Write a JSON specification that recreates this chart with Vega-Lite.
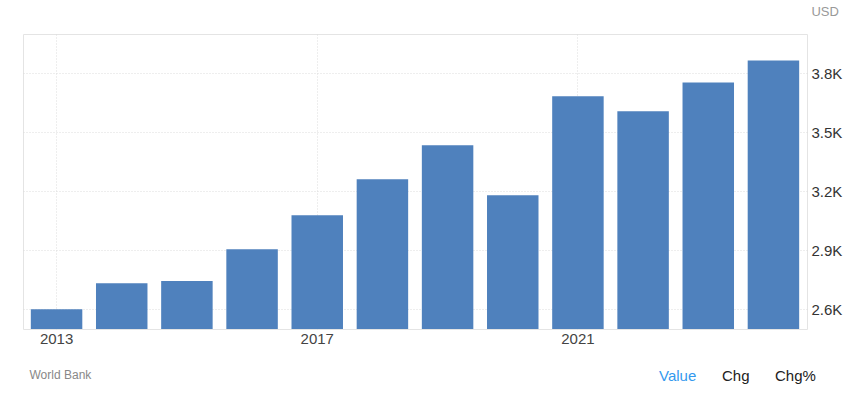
{
  "$schema": "https://vega.github.io/schema/vega-lite/v6.json",
  "width": 784,
  "height": 295,
  "autosize": "none",
  "padding": {"left": 23, "top": 34, "right": 48, "bottom": 79},
  "background": "white",
  "config": {
    "view": {"stroke": "#e4e4e4", "strokeWidth": 1},
    "font": "Liberation Sans"
  },
  "title": {
    "text": "USD",
    "anchor": "end",
    "frame": "bounds",
    "orient": "top",
    "fontSize": 13,
    "font": "Liberation Sans",
    "fontWeight": "normal",
    "color": "#999999",
    "offset": 15,
    "dx": -3
  },
  "data": {
    "values": [
      {"year": "2013", "value": 2600, "series": "Value"},
      {"year": "2014", "value": 2733, "series": "Value"},
      {"year": "2015", "value": 2744, "series": "Value"},
      {"year": "2016", "value": 2906, "series": "Value"},
      {"year": "2017", "value": 3079, "series": "Value"},
      {"year": "2018", "value": 3261, "series": "Value"},
      {"year": "2019", "value": 3434, "series": "Value"},
      {"year": "2020", "value": 3180, "series": "Value"},
      {"year": "2021", "value": 3683, "series": "Value"},
      {"year": "2022", "value": 3607, "series": "Value"},
      {"year": "2023", "value": 3754, "series": "Value"},
      {"year": "2024", "value": 3865, "series": "Value"}
    ]
  },
  "mark": {"type": "bar", "clip": true},
  "encoding": {
    "x": {
      "field": "year",
      "type": "ordinal",
      "scale": {"paddingInner": 0.21, "paddingOuter": 0.12},
      "axis": {
        "values": ["2013", "2017", "2021"],
        "labelAngle": 0,
        "labelFontSize": 15,
        "labelFont": "Liberation Sans",
        "labelColor": "#444444",
        "labelPadding": 2,
        "ticks": false,
        "domain": false,
        "grid": true,
        "gridColor": "#dddddd",
        "gridDash": [1, 2],
        "bandPosition": 0.5,
        "title": "World Bank",
        "titleAnchor": "start",
        "titleAlign": "left",
        "titleX": 6,
        "titleFontSize": 12,
        "titleFont": "Liberation Sans",
        "titleFontWeight": "normal",
        "titleColor": "#888888",
        "titlePadding": 23
      }
    },
    "y": {
      "field": "value",
      "type": "quantitative",
      "scale": {"domain": [2500, 4000], "nice": false, "zero": false},
      "axis": {
        "orient": "right",
        "values": [2600, 2900, 3200, 3500, 3800],
        "labelExpr": "format(datum.value / 1000, '.1f') + 'K'",
        "labelFontSize": 15,
        "labelFont": "Liberation Sans",
        "labelColor": "#333333",
        "labelPadding": 4,
        "ticks": false,
        "domain": false,
        "grid": true,
        "gridColor": "#dddddd",
        "gridDash": [1, 2],
        "title": null
      }
    },
    "color": {
      "field": "series",
      "type": "nominal",
      "scale": {"domain": ["Value", "Chg", "Chg%"], "range": ["#4f81bd", "#4f81bd", "#4f81bd"]},
      "legend": {
        "title": null,
        "orient": "none",
        "legendX": 621,
        "legendY": 334,
        "direction": "horizontal",
        "padding": 0,
        "symbolSize": 0,
        "symbolOpacity": 0,
        "symbolStrokeWidth": 0,
        "labelOffset": 0,
        "columnPadding": 10,
        "labelFontSize": 15,
        "labelFont": "Liberation Sans",
        "labelColor": {"expr": "datum.label == 'Value' ? '#3399ee' : '#222222'"}
      }
    }
  }
}
